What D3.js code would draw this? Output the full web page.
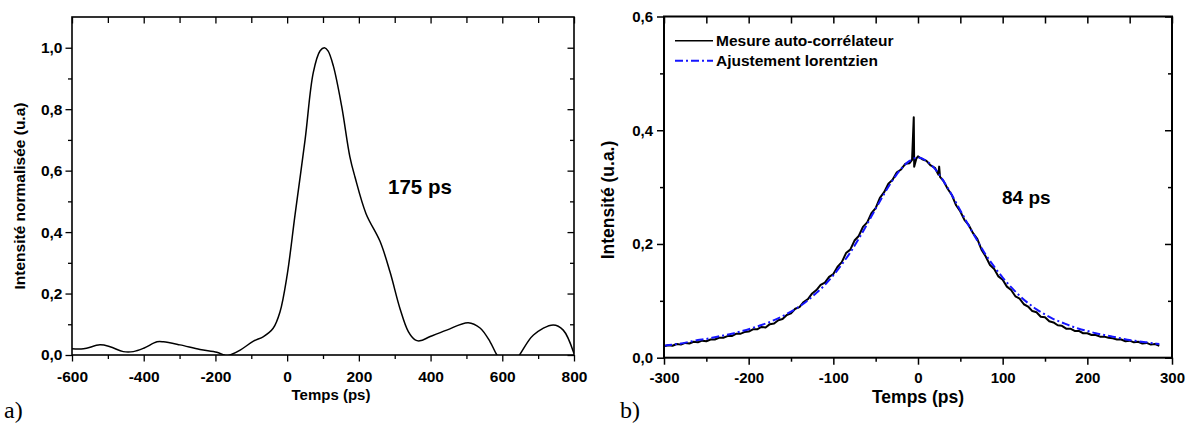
<!DOCTYPE html>
<html><head><meta charset="utf-8">
<script src="https://cdn.jsdelivr.net/npm/d3@7"></script>
<style>body{margin:0;background:#fff}text{font-family:"Liberation Sans",Arial,sans-serif}</style>
</head><body><svg id="c" width="1193" height="430"></svg>
<script>
// ---- Panel a data ----
const leftTime = [-600,-568,-522,-494,-457,-429,-400,-363,-345,-299,-243,-196,-176,-168,-159,-131,-94,-66,-39,-20,0,22,50,73,92,104,114,129,152,175,189,220,259,287,315,338,357,370,399,445,505,538,566,585,605,625,648,687,742,770,800];
const leftIntensity = [0.02,0.02,0.033,0.027,0.011,0.011,0.022,0.043,0.043,0.033,0.018,0.009,0.0,-0.003,0.0,0.016,0.045,0.06,0.087,0.14,0.26,0.456,0.70,0.92,0.99,1.0,0.99,0.94,0.81,0.645,0.58,0.46,0.37,0.27,0.15,0.076,0.049,0.046,0.06,0.081,0.105,0.088,0.043,0.0,-0.03,-0.035,0.0,0.065,0.098,0.081,0.005];
const leftXTicks = [-600,-400,-200,0,200,400,600,800];
const leftXMinor = [-500,-300,-100,100,300,500,700];
const leftYTicks = [0,0.2,0.4,0.6,0.8,1.0];
const leftYMinor = [0.1,0.3,0.5,0.7,0.9];

// ---- Panel b data ----
const measTime = [-300,-295,-290,-285,-280,-275,-270,-265,-260,-255,-250,-245,-240,-235,-230,-225,-220,-215,-210,-205,-200,-195,-190,-185,-180,-175,-170,-165,-160,-155,-150,-145,-140,-135,-130,-125,-120,-115,-110,-105,-100,-95,-90,-85,-80,-75,-70,-65,-60,-55,-50,-45,-40,-35,-30,-25,-20,-15,-10,-7,-5,-4.5,-2,0,5,10,15,20,24,25,26,30,35,40,45,50,55,60,65,70,75,80,85,90,95,100,105,110,115,120,125,130,135,140,145,150,155,160,165,170,175,180,185,190,195,200,205,210,215,220,225,230,235,240,245,250,255,260,265,270,275,280,285];
const measIntensity = [0.020,0.022,0.021,0.024,0.023,0.026,0.025,0.028,0.027,0.030,0.029,0.032,0.032,0.035,0.035,0.038,0.038,0.042,0.042,0.045,0.046,0.050,0.050,0.054,0.053,0.059,0.060,0.066,0.068,0.075,0.078,0.086,0.089,0.098,0.103,0.113,0.119,0.128,0.132,0.142,0.147,0.160,0.168,0.184,0.190,0.206,0.214,0.230,0.238,0.254,0.263,0.281,0.291,0.306,0.313,0.326,0.331,0.341,0.342,0.348,0.423,0.336,0.350,0.354,0.349,0.346,0.338,0.334,0.322,0.336,0.318,0.311,0.297,0.286,0.268,0.257,0.242,0.233,0.219,0.209,0.190,0.178,0.163,0.156,0.143,0.137,0.125,0.119,0.108,0.104,0.094,0.090,0.082,0.080,0.072,0.071,0.064,0.062,0.057,0.056,0.051,0.051,0.047,0.047,0.043,0.043,0.040,0.040,0.037,0.037,0.035,0.034,0.032,0.032,0.029,0.030,0.027,0.028,0.025,0.026,0.023,0.024,0.021];
const fitTime = [-300,-290,-280,-270,-260,-250,-240,-230,-220,-210,-200,-190,-180,-170,-160,-150,-140,-130,-120,-110,-100,-90,-80,-70,-60,-50,-40,-30,-20,-10,0,10,20,30,40,50,60,70,80,90,100,110,120,130,140,150,160,170,180,190,200,210,220,230,240,250,260,270,280,285];
const fitIntensity = [0.021,0.023,0.025,0.028,0.031,0.033,0.036,0.039,0.042,0.046,0.050,0.055,0.060,0.066,0.073,0.081,0.090,0.101,0.114,0.128,0.145,0.164,0.185,0.209,0.235,0.262,0.288,0.312,0.332,0.346,0.352,0.346,0.332,0.311,0.286,0.259,0.232,0.206,0.181,0.160,0.141,0.124,0.109,0.096,0.085,0.076,0.068,0.062,0.056,0.051,0.047,0.043,0.040,0.037,0.034,0.031,0.029,0.027,0.025,0.024];
const rightXTicks = [-300,-200,-100,0,100,200,300];
const rightXMinor = [-250,-150,-50,50,150,250];
const rightYTicks = [0,0.2,0.4,0.6];
const rightYMinor = [0.1,0.3,0.5];
const legendLabels = ["Mesure auto-corrélateur","Ajustement lorentzien"];

const svg = d3.select("#c");
const fmtDec = d => d3.format(".1f")(d).replace(".", ",");
const fmtInt = d => String(d);

function frame(x, y, opts) {
  const [x0,x1] = x.range(), [y0,y1] = y.range();
  const g = svg.append("g");
  function ax(gen, tr, vals, size, fmt, pad, fs) {
    const a = gen.tickValues(vals).tickSizeInner(size).tickSizeOuter(0).tickPadding(pad || 3).tickFormat(fmt || (()=>""));
    const s = g.append("g").attr("transform", tr).call(a);
    s.select(".domain").remove();
    s.selectAll("line").attr("stroke","#000").attr("stroke-width", opts.tw);
    s.selectAll("text").attr("font-size", fs).attr("font-weight","bold").attr("fill","#000").style("font-family",'"Liberation Sans",Arial,sans-serif');
    return s;
  }
  // bottom (outward)
  ax(d3.axisBottom(x), `translate(0,${y0})`, opts.xt, opts.len, fmtInt, opts.xpad, opts.fs);
  ax(d3.axisBottom(x), `translate(0,${y0})`, opts.xm, 4);
  // top (inward = downward)
  ax(d3.axisBottom(x), `translate(0,${y1})`, opts.xt, opts.len);
  ax(d3.axisBottom(x), `translate(0,${y1})`, opts.xm, opts.topMinor);
  // left (outward)
  ax(d3.axisLeft(y), `translate(${x0},0)`, opts.yt, opts.len, fmtDec, opts.ypad, opts.fs);
  ax(d3.axisLeft(y), `translate(${x0},0)`, opts.ym, 4);
  // right (inward = leftward)
  ax(d3.axisLeft(y), `translate(${x1},0)`, opts.yt, opts.len);
  ax(d3.axisLeft(y), `translate(${x1},0)`, opts.ym, 4);
  svg.append("rect").attr("x",x0).attr("y",y1).attr("width",x1-x0).attr("height",y0-y1)
    .attr("fill","none").attr("stroke","#000").attr("stroke-width",opts.fw);
}

// ---------- Panel a ----------
const xa = d3.scaleLinear([-600,800],[72,574]);
const ya = d3.scaleLinear([0,1.1],[355,17]);
svg.append("clipPath").attr("id","clipA").append("rect").attr("x",72).attr("y",17).attr("width",502).attr("height",338);
svg.append("path").attr("clip-path","url(#clipA)")
  .datum(leftTime.map((t,i)=>[t,leftIntensity[i]]))
  .attr("fill","none").attr("stroke","#000").attr("stroke-width",1.5)
  .attr("d", d3.line().x(d=>xa(d[0])).y(d=>ya(d[1])).curve(d3.curveCatmullRom.alpha(0.5)));
frame(xa, ya, {xt:leftXTicks, xm:leftXMinor, yt:leftYTicks, ym:leftYMinor, fs:15.5, xpad:9, ypad:3, tw:1.3, fw:1.6, len:6.5, topMinor:6});
svg.append("text").attr("transform","translate(25,196) rotate(-90)").attr("text-anchor","middle")
  .attr("font-size",15.5).attr("font-weight","bold").text("Intensité normalisée (u.a)");
svg.append("text").attr("x",331).attr("y",400).attr("text-anchor","middle")
  .attr("font-size",15).attr("font-weight","bold").text("Temps (ps)");
svg.append("text").attr("x",388).attr("y",194).attr("font-size",20.5).attr("font-weight","bold").text("175 ps");
svg.append("text").attr("x",4).attr("y",418).attr("font-size",24).style("font-family",'"Liberation Serif","Times New Roman",serif').text("a)");

// ---------- Panel b ----------
const xb = d3.scaleLinear([-300,300],[664,1172]);
const yb = d3.scaleLinear([0,0.6],[357.7,16.5]);
const lineB = d3.line().x(d=>xb(d[0])).y(d=>yb(d[1]));
svg.append("path").datum(measTime.map((t,i)=>[t,measIntensity[i]]))
  .attr("fill","none").attr("stroke","#000").attr("stroke-width",2).attr("stroke-linejoin","round")
  .attr("d", lineB);
svg.append("path").datum(fitTime.map((t,i)=>[t,fitIntensity[i]]))
  .attr("fill","none").attr("stroke","#1515ff").attr("stroke-width",2).attr("stroke-dasharray","8,3,2,3")
  .attr("d", lineB.curve(d3.curveCatmullRom.alpha(0.5)));
frame(xb, yb, {xt:rightXTicks, xm:rightXMinor, yt:rightYTicks, ym:rightYMinor, fs:15, xpad:8, ypad:4, tw:1.5, fw:2, len:7, topMinor:7});
svg.append("text").attr("transform","translate(614,200) rotate(-90)").attr("text-anchor","middle")
  .attr("font-size",17.5).attr("font-weight","bold").text("Intensité (u.a.)");
svg.append("text").attr("x",918).attr("y",403).attr("text-anchor","middle")
  .attr("font-size",17.5).attr("font-weight","bold").text("Temps (ps)");
svg.append("text").attr("x",1002).attr("y",204).attr("font-size",19).attr("font-weight","bold").text("84 ps");
svg.append("text").attr("x",620).attr("y",418).attr("font-size",24).style("font-family",'"Liberation Serif","Times New Roman",serif').text("b)");
// legend
const leg = svg.append("g");
legendLabels.forEach((lab,i)=>{
  const yy = 40.7 + i*20;
  leg.append("line").attr("x1",675).attr("x2",713).attr("y1",yy).attr("y2",yy)
    .attr("stroke", i===0 ? "#000" : "#1515ff").attr("stroke-width", i===0 ? 1.5 : 2)
    .attr("stroke-dasharray", i===0 ? null : "8,3,2,3");
  leg.append("text").attr("x",716).attr("y",yy+5).attr("font-size",15.5).attr("font-weight","bold").text(lab);
});
</script></body></html>
